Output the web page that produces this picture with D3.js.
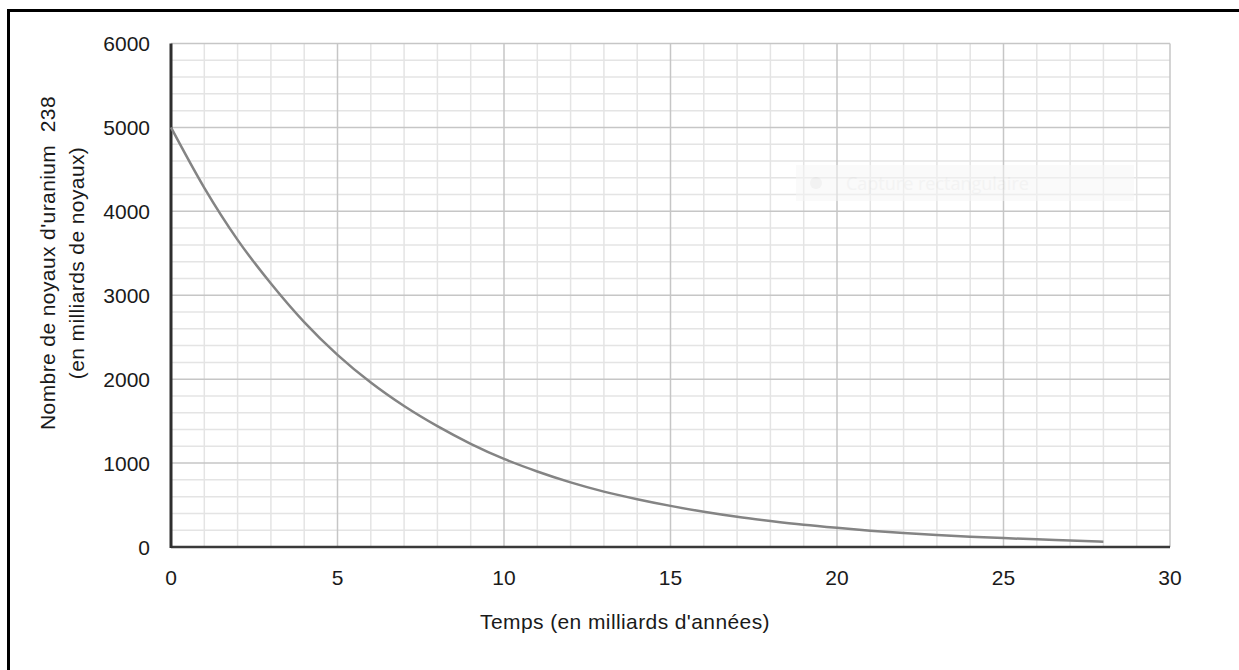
<!DOCTYPE html>
<html>
<head>
<meta charset="utf-8">
<script src="https://cdn.jsdelivr.net/npm/d3@7"></script>
<style>
  body { margin: 0; background: #fff; }
  svg { display: block; font-family: "Liberation Sans", Arial, sans-serif; }
</style>
</head>
<body>
<svg width="1239" height="670"></svg>
<script>
// values (billions of years -> billions of nuclei)
const years = [0, 1, 2, 3, 4, 5, 6, 7, 8, 9, 10, 11, 12, 13, 14, 15, 16, 17, 18, 19, 20, 21, 22, 23, 24, 25, 26, 27, 28];
const nuclei = [5000, 4280, 3660, 3140, 2680, 2290, 1960, 1680, 1440, 1230, 1050, 900, 770, 660, 570, 490, 420, 360, 310, 265, 228, 195, 168, 144, 123, 106, 91, 78, 64];
const xTicks = [0, 5, 10, 15, 20, 25, 30];
const yTicks = [0, 1000, 2000, 3000, 4000, 5000, 6000];
const xTitle = "Temps (en milliards d'années)";
const yTitle = ["Nombre de noyaux d'uranium\u00a0\u00a0238", "(en milliards de noyaux)"];

const svg = d3.select("svg");

// outer frame (only top and left edges visible)
svg.append("rect")
  .attr("x", 8.5).attr("y", 10.5)
  .attr("width", 1300).attr("height", 700)
  .attr("fill", "none").attr("stroke", "#000").attr("stroke-width", 3);

const x = d3.scaleLinear().domain([0, 30]).range([171, 1170]);
const y = d3.scaleLinear().domain([0, 6000]).range([547, 43.5]);

const grid = svg.append("g");

// minor grid
grid.selectAll("line.mx")
  .data(d3.range(0, 31).filter(d => d % 5 !== 0))
  .enter().append("line")
  .attr("x1", d => x(d)).attr("x2", d => x(d))
  .attr("y1", y(0)).attr("y2", y(6000))
  .attr("stroke", "#e4e4e4").attr("stroke-width", 1.5);

grid.selectAll("line.my")
  .data(d3.range(0, 6001, 200).filter(d => d % 1000 !== 0))
  .enter().append("line")
  .attr("y1", d => y(d)).attr("y2", d => y(d))
  .attr("x1", x(0)).attr("x2", x(30))
  .attr("stroke", "#e4e4e4").attr("stroke-width", 1.5);

// major grid
grid.selectAll("line.Mx")
  .data(xTicks.slice(1))
  .enter().append("line")
  .attr("x1", d => x(d)).attr("x2", d => x(d))
  .attr("y1", y(0)).attr("y2", y(6000))
  .attr("stroke", "#c6c6c6").attr("stroke-width", 1.5);

grid.selectAll("line.My")
  .data(yTicks.slice(1))
  .enter().append("line")
  .attr("y1", d => y(d)).attr("y2", d => y(d))
  .attr("x1", x(0)).attr("x2", x(30))
  .attr("stroke", "#c6c6c6").attr("stroke-width", 1.5);

// faint watermark left over in the screenshot
const wm = svg.append("g").attr("opacity", 0.5);
wm.append("rect")
  .attr("x", 796).attr("y", 165).attr("width", 338).attr("height", 36)
  .attr("fill", "#f6f6f6");
wm.append("circle").attr("cx", 816).attr("cy", 183).attr("r", 6).attr("fill", "#e6e6e6");
wm.append("text")
  .attr("x", 846).attr("y", 190)
  .style("font-family", "'Open Sans', sans-serif")
  .style("font-size", "18px")
  .attr("fill", "#e8e8e8")
  .text("Capture rectangulaire");

// axes lines
svg.append("line")
  .attr("x1", x(0)).attr("x2", x(30)).attr("y1", y(0)).attr("y2", y(0))
  .attr("stroke", "#3a3a3a").attr("stroke-width", 2.5);
svg.append("line")
  .attr("x1", x(0)).attr("x2", x(0)).attr("y1", y(0) + 1).attr("y2", y(6000))
  .attr("stroke", "#2e2e2e").attr("stroke-width", 3);

// curve
const line = d3.line()
  .x((d, i) => x(years[i]))
  .y(d => y(d))
  .curve(d3.curveMonotoneX);

svg.append("path")
  .datum(nuclei)
  .attr("d", line)
  .attr("fill", "none")
  .attr("stroke", "#848484")
  .attr("stroke-width", 2.5);

// tick labels
svg.append("g").selectAll("text")
  .data(yTicks)
  .enter().append("text")
  .attr("x", 150).attr("y", d => y(d))
  .attr("dy", "0.36em")
  .attr("text-anchor", "end")
  .style("font-size", "21px")
  .attr("fill", "#1a1a1a")
  .text(d => d);

svg.append("g").selectAll("text")
  .data(xTicks)
  .enter().append("text")
  .attr("x", d => x(d)).attr("y", 577)
  .attr("dy", "0.36em")
  .attr("text-anchor", "middle")
  .style("font-size", "21px")
  .attr("fill", "#1a1a1a")
  .text(d => d);

// axis titles
svg.append("text")
  .attr("x", 625).attr("y", 621)
  .attr("dy", "0.36em")
  .attr("text-anchor", "middle")
  .style("font-size", "21px")
  .style("letter-spacing", "0.4px")
  .attr("fill", "#1a1a1a")
  .text(xTitle);

svg.append("g")
  .attr("transform", "translate(47,263) rotate(-90)")
  .selectAll("text")
  .data(yTitle)
  .enter().append("text")
  .attr("x", 0).attr("y", (d, i) => i * 29)
  .attr("dy", "0.36em")
  .attr("text-anchor", "middle")
  .style("font-size", "21px")
  .style("letter-spacing", "0.4px")
  .attr("fill", "#1a1a1a")
  .text(d => d);
</script>
</body>
</html>
